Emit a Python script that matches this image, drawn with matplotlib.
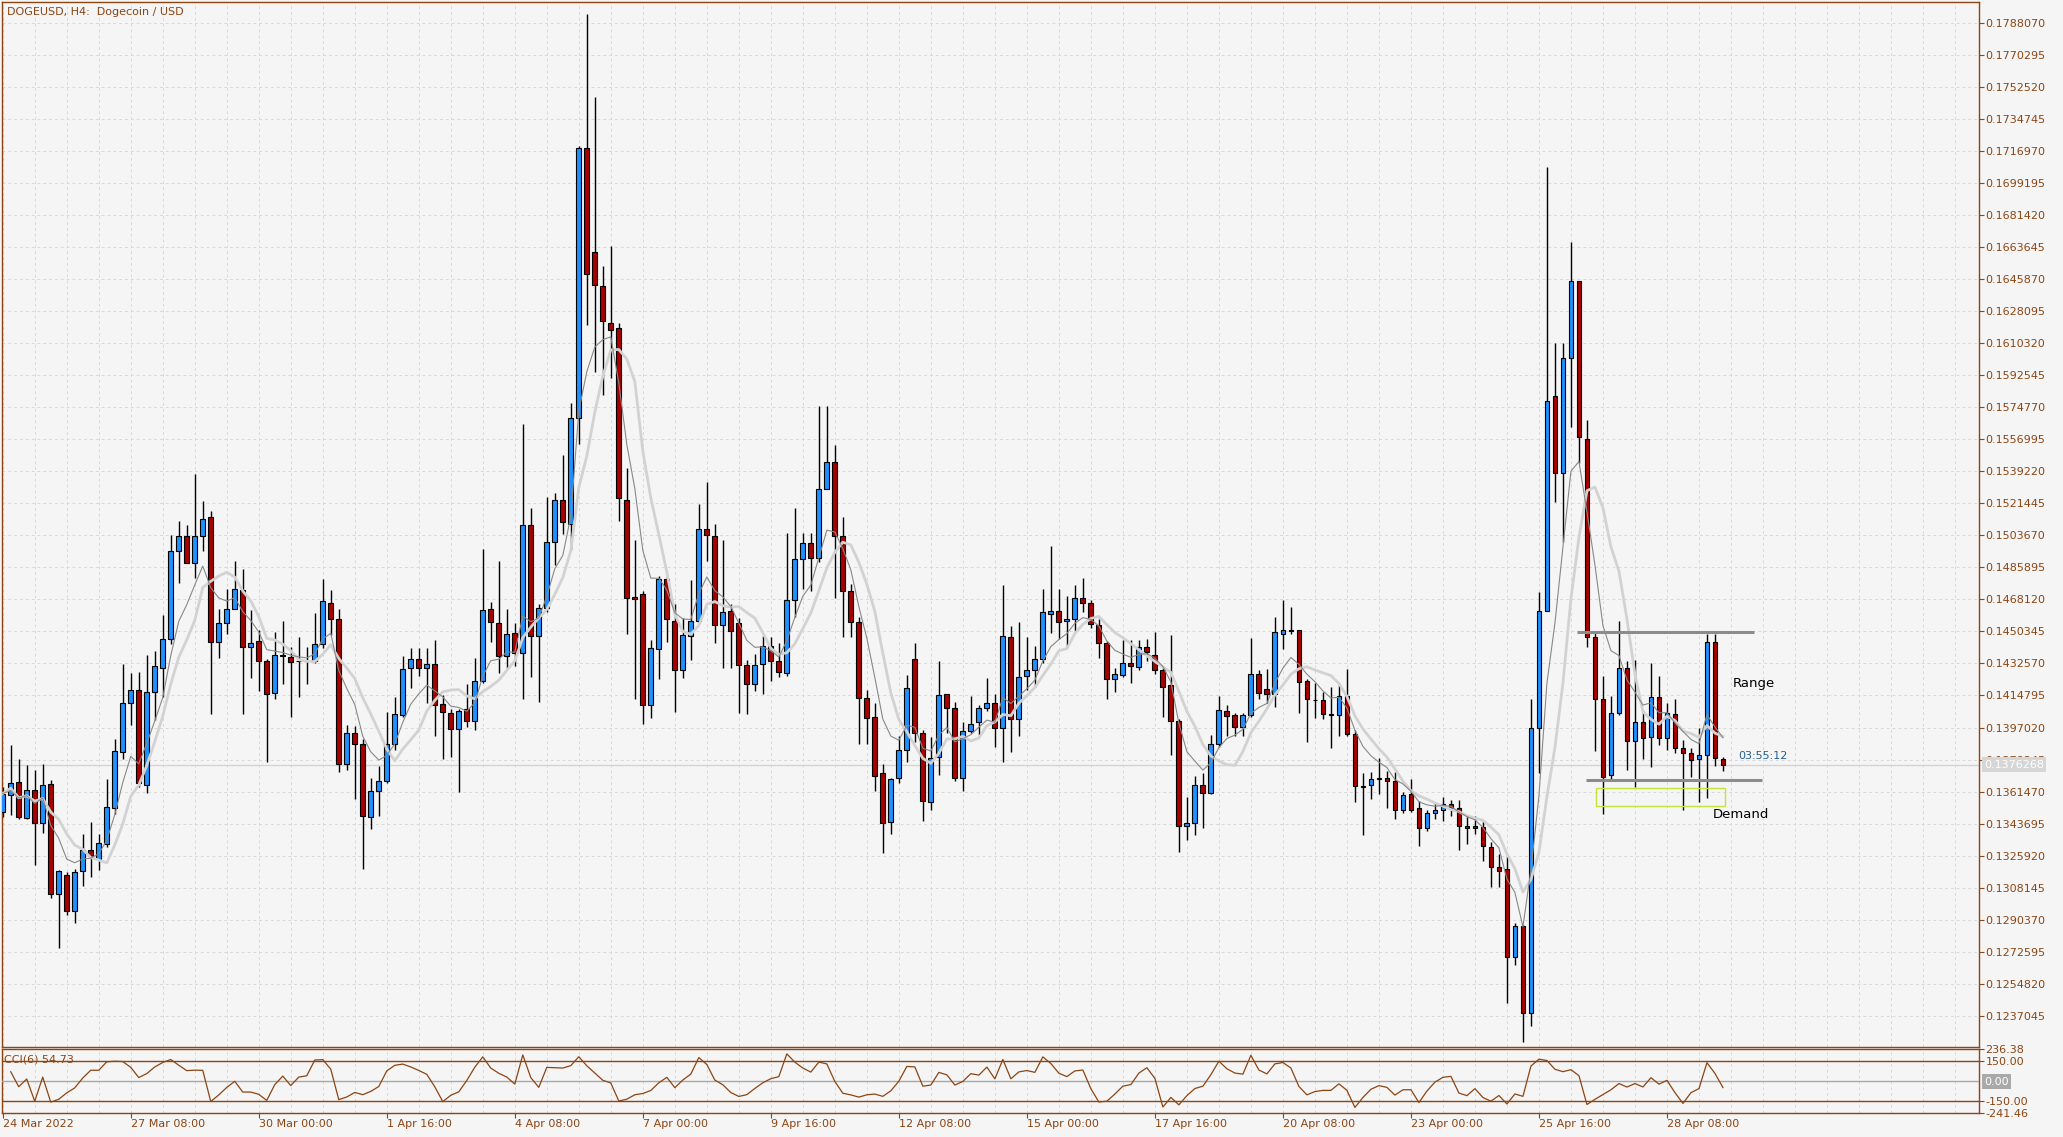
import numpy as np
import pandas as pd
import matplotlib
matplotlib.use('Agg')
import matplotlib.pyplot as plt
from matplotlib import rcParams
from matplotlib.patches import Rectangle

W, H = 2063, 1137
BROWN = '#8b4513'
BULL = '#1e90ff'
BEAR = '#a80000'
BG = '#f5f5f5'
GRID = '#d9d9d9'

rcParams.update({'font.family': 'DejaVu Sans', 'font.size': 8})

# ── H4 candles, 24 Mar 16:00 .. 29 Apr 12:00 ─────────────────────────────────
opens = [
    0.13501, 0.13597, 0.13670, 0.13470, 0.13625, 0.13442, 0.13658, 0.13048, 0.13153, 0.12952,
    0.13174, 0.13292, 0.13242, 0.13325, 0.13525, 0.13835, 0.14109, 0.14176, 0.13653, 0.14168,
    0.14298, 0.14462, 0.14951, 0.15035, 0.14881, 0.15035, 0.15140, 0.14446, 0.14548, 0.14629,
    0.14736, 0.14418, 0.14453, 0.14337, 0.14164, 0.14372, 0.14364, 0.14337, 0.14340, 0.14337,
    0.14436, 0.14664, 0.14573, 0.13770, 0.13942, 0.13876, 0.13473, 0.13620, 0.13671, 0.13877,
    0.14037, 0.14301, 0.14353, 0.14301, 0.14325, 0.14102, 0.14049, 0.13962, 0.14074, 0.14008,
    0.14226, 0.14626, 0.14548, 0.14370, 0.14495, 0.14383, 0.15094, 0.14476, 0.14632, 0.15000,
    0.15234, 0.15103, 0.15687, 0.17190, 0.16613, 0.16420, 0.16217, 0.16186, 0.15234, 0.14694,
    0.14713, 0.14096, 0.14408, 0.14797, 0.14564, 0.14292, 0.14480, 0.14564, 0.15072, 0.15032,
    0.14539, 0.14617, 0.14548, 0.14320, 0.14214, 0.14323, 0.14423, 0.14342, 0.14273, 0.14679,
    0.14906, 0.14994, 0.14913, 0.15297, 0.15443, 0.15032, 0.14729, 0.14554, 0.14133, 0.14026,
    0.13715, 0.13446, 0.13690, 0.13843, 0.14348, 0.13942, 0.13557, 0.13807, 0.14155, 0.14076,
    0.13690, 0.13952, 0.14002, 0.14079, 0.14109, 0.13970, 0.14475, 0.14020, 0.14257, 0.14287,
    0.14348, 0.14603, 0.14616, 0.14562, 0.14575, 0.14687, 0.14664, 0.14542, 0.14442, 0.14242,
    0.14259, 0.14331, 0.14307, 0.14418, 0.14372, 0.14290, 0.14205, 0.14007, 0.13422, 0.13440,
    0.13653, 0.13609, 0.13876, 0.14063, 0.14039, 0.13974, 0.14042, 0.14270, 0.14183, 0.14159,
    0.14492, 0.14509, 0.14511, 0.14226, 0.14124, 0.14124, 0.14044, 0.14041, 0.14146, 0.13932,
    0.13645, 0.13651, 0.13686, 0.13689, 0.13673, 0.13514, 0.13603, 0.13523, 0.13412, 0.13498,
    0.13514, 0.13546, 0.13523, 0.13421, 0.13421, 0.13418, 0.13307, 0.13198, 0.13182, 0.12694,
    0.12870, 0.12385, 0.13970, 0.14618, 0.15811, 0.15384, 0.16022, 0.16450, 0.15573, 0.14470,
    0.14131, 0.13705, 0.14048, 0.14303, 0.13896, 0.13998, 0.13918, 0.14140, 0.13914, 0.14044,
    0.13859, 0.13829, 0.13798, 0.13820, 0.14446, 0.13798,
]
highs = [
    0.13640, 0.13872, 0.13798, 0.13760, 0.13736, 0.13770, 0.13681, 0.13178, 0.13168, 0.13187,
    0.13381, 0.13446, 0.13377, 0.13686, 0.13909, 0.14322, 0.14274, 0.14279, 0.14372, 0.14396,
    0.14594, 0.15038, 0.15116, 0.15094, 0.15377, 0.15227, 0.15172, 0.14626, 0.14742, 0.14894,
    0.14849, 0.14622, 0.14511, 0.14348, 0.14501, 0.14561, 0.14418, 0.14474, 0.14418, 0.14607,
    0.14796, 0.14733, 0.14631, 0.13983, 0.13977, 0.13909, 0.13692, 0.13755, 0.14057, 0.14140,
    0.14368, 0.14414, 0.14414, 0.14414, 0.14455, 0.14148, 0.14074, 0.14074, 0.14211, 0.14354,
    0.14960, 0.14666, 0.14897, 0.14626, 0.14548, 0.15656, 0.15188, 0.14657, 0.15250, 0.15272,
    0.15484, 0.15771, 0.17199, 0.17932, 0.17471, 0.16535, 0.16644, 0.16217, 0.15412, 0.15010,
    0.14729, 0.14454, 0.14813, 0.14813, 0.14657, 0.14579, 0.14788, 0.15209, 0.15334, 0.15100,
    0.15010, 0.14657, 0.14579, 0.14345, 0.14376, 0.14476, 0.14470, 0.14439, 0.15053, 0.15188,
    0.15053, 0.15053, 0.15758, 0.15758, 0.15537, 0.15141, 0.14766, 0.14585, 0.14180, 0.14109,
    0.13765, 0.13692, 0.13922, 0.14261, 0.14442, 0.13959, 0.13918, 0.14342, 0.14159, 0.14113,
    0.14002, 0.14144, 0.14094, 0.14244, 0.14159, 0.14764, 0.14535, 0.14555, 0.14475, 0.14424,
    0.14737, 0.14977, 0.14742, 0.14700, 0.14764, 0.14803, 0.14677, 0.14570, 0.14451, 0.14302,
    0.14455, 0.14455, 0.14455, 0.14463, 0.14498, 0.14307, 0.14483, 0.14015, 0.13585, 0.13700,
    0.13720, 0.13931, 0.14144, 0.14094, 0.14048, 0.14048, 0.14466, 0.14289, 0.14294, 0.14583,
    0.14677, 0.14637, 0.14514, 0.14242, 0.14216, 0.14168, 0.14194, 0.14210, 0.14296, 0.13955,
    0.13715, 0.13721, 0.13801, 0.13731, 0.13721, 0.13613, 0.13683, 0.13562, 0.13514, 0.13555,
    0.13587, 0.13565, 0.13565, 0.13476, 0.13476, 0.13450, 0.13332, 0.13268, 0.13259, 0.12886,
    0.12876, 0.14130, 0.14720, 0.17081, 0.16108, 0.16108, 0.16666, 0.16450, 0.15678, 0.14497,
    0.14255, 0.14144, 0.14561, 0.14340, 0.14344, 0.14066, 0.14329, 0.14255, 0.14107, 0.14127,
    0.13903, 0.13857, 0.13970, 0.14488, 0.14488, 0.13807,
]
lows = [
    0.13473, 0.13483, 0.13464, 0.13464, 0.13205, 0.13385, 0.13026, 0.12743, 0.12928, 0.12885,
    0.13089, 0.13140, 0.13178, 0.13307, 0.13492, 0.13798, 0.13983, 0.13640, 0.13607, 0.14010,
    0.14140, 0.14436, 0.14773, 0.14881, 0.14803, 0.14951, 0.14044, 0.14355, 0.14488, 0.14626,
    0.14044, 0.14244, 0.14174, 0.13779, 0.14131, 0.14211, 0.14027, 0.14140, 0.14214, 0.14329,
    0.14409, 0.14483, 0.13724, 0.13736, 0.13575, 0.13187, 0.13409, 0.13479, 0.13664, 0.13844,
    0.14029, 0.14190, 0.14255, 0.14109, 0.13924, 0.13794, 0.13806, 0.13613, 0.13971, 0.13956,
    0.14220, 0.14445, 0.14273, 0.14298, 0.14314, 0.14127, 0.14252, 0.14112, 0.14610, 0.14875,
    0.15047, 0.14954, 0.15546, 0.16207, 0.15942, 0.15818, 0.15911, 0.15116, 0.14492, 0.14127,
    0.13987, 0.14024, 0.14242, 0.14445, 0.14055, 0.14245, 0.14345, 0.14548, 0.14897, 0.14439,
    0.14298, 0.14298, 0.14049, 0.14043, 0.14174, 0.14158, 0.14226, 0.14252, 0.14258, 0.14585,
    0.14741, 0.14726, 0.14891, 0.15297, 0.14688, 0.14470, 0.14470, 0.13878, 0.13878, 0.13618,
    0.13274, 0.13381, 0.13662, 0.13780, 0.13891, 0.13451, 0.13511, 0.13705, 0.13937, 0.13674,
    0.13618, 0.13937, 0.13928, 0.14063, 0.13863, 0.13780, 0.13835, 0.13922, 0.14177, 0.14196,
    0.14326, 0.14496, 0.14459, 0.14415, 0.14501, 0.14609, 0.14525, 0.14357, 0.14129, 0.14168,
    0.14251, 0.14218, 0.14289, 0.14338, 0.14266, 0.14029, 0.13816, 0.13279, 0.13348, 0.13372,
    0.13414, 0.13603, 0.13863, 0.13922, 0.13922, 0.13922, 0.14029, 0.14131, 0.14107, 0.14085,
    0.14405, 0.14492, 0.14052, 0.13891, 0.14025, 0.14018, 0.13859, 0.13923, 0.13923, 0.13555,
    0.13374, 0.13571, 0.13603, 0.13523, 0.13460, 0.13498, 0.13501, 0.13310, 0.13396, 0.13460,
    0.13450, 0.13476, 0.13291, 0.13322, 0.13380, 0.13230, 0.13086, 0.13086, 0.12439, 0.12653,
    0.12222, 0.12311, 0.13715, 0.14618, 0.15225, 0.14998, 0.15639, 0.15439, 0.14418, 0.13840,
    0.13492, 0.13687, 0.14038, 0.13733, 0.13640, 0.13798, 0.13751, 0.13872, 0.13844, 0.13829,
    0.13514, 0.13696, 0.13557, 0.13581, 0.13757, 0.13729,
]
closes = [
    0.13603, 0.13664, 0.13473, 0.13625, 0.13442, 0.13653, 0.13048, 0.13174, 0.12952, 0.13168,
    0.13292, 0.13255, 0.13331, 0.13529, 0.13841, 0.14109, 0.14176, 0.13664, 0.14168, 0.14314,
    0.14462, 0.14951, 0.15035, 0.14885, 0.15035, 0.15129, 0.14446, 0.14548, 0.14629, 0.14740,
    0.14418, 0.14442, 0.14342, 0.14157, 0.14375, 0.14366, 0.14335, 0.14339, 0.14342, 0.14436,
    0.14670, 0.14573, 0.13770, 0.13937, 0.13876, 0.13479, 0.13620, 0.13675, 0.13877, 0.14044,
    0.14296, 0.14353, 0.14301, 0.14325, 0.14094, 0.14055, 0.13962, 0.14062, 0.14008, 0.14226,
    0.14623, 0.14557, 0.14370, 0.14492, 0.14383, 0.15094, 0.14476, 0.14632, 0.15000, 0.15234,
    0.15110, 0.15687, 0.17190, 0.16491, 0.16426, 0.16226, 0.16179, 0.15244, 0.14688, 0.14685,
    0.14096, 0.14414, 0.14797, 0.14570, 0.14292, 0.14486, 0.14564, 0.15072, 0.15038, 0.14539,
    0.14610, 0.14508, 0.14320, 0.14214, 0.14320, 0.14423, 0.14342, 0.14276, 0.14679, 0.14906,
    0.14994, 0.14913, 0.15297, 0.15446, 0.15032, 0.14729, 0.14554, 0.14133, 0.14024, 0.13702,
    0.13440, 0.13686, 0.13843, 0.14192, 0.13942, 0.13563, 0.13803, 0.14150, 0.14076, 0.13690,
    0.13952, 0.13987, 0.14076, 0.14109, 0.13970, 0.14481, 0.14020, 0.14248, 0.14287, 0.14353,
    0.14609, 0.14616, 0.14557, 0.14575, 0.14692, 0.14659, 0.14544, 0.14442, 0.14242, 0.14270,
    0.14326, 0.14313, 0.14418, 0.14390, 0.14292, 0.14196, 0.14007, 0.13422, 0.13440, 0.13653,
    0.13609, 0.13876, 0.14070, 0.14035, 0.13974, 0.14042, 0.14270, 0.14164, 0.14159, 0.14498,
    0.14509, 0.14507, 0.14224, 0.14131, 0.14121, 0.14044, 0.14037, 0.14146, 0.13932, 0.13645,
    0.13642, 0.13683, 0.13689, 0.13673, 0.13514, 0.13597, 0.13514, 0.13412, 0.13498, 0.13514,
    0.13546, 0.13523, 0.13421, 0.13412, 0.13412, 0.13310, 0.13198, 0.13173, 0.12694, 0.12870,
    0.12385, 0.13970, 0.14618, 0.15783, 0.15384, 0.16022, 0.16450, 0.15582, 0.14472, 0.14131,
    0.13696, 0.14048, 0.14303, 0.13896, 0.13998, 0.13914, 0.14140, 0.13914, 0.14051, 0.13859,
    0.13829, 0.13792, 0.13820, 0.14446, 0.13803, 0.13763,
]

price_labels = [
    '0.1788070', '0.1770295', '0.1752520', '0.1734745', '0.1716970', '0.1699195',
    '0.1681420', '0.1663645', '0.1645870', '0.1628095', '0.1610320', '0.1592545',
    '0.1574770', '0.1556995', '0.1539220', '0.1521445', '0.1503670', '0.1485895',
    '0.1468120', '0.1450345', '0.1432570', '0.1414795', '0.1397020', '0.1379245',
    '0.1361470', '0.1343695', '0.1325920', '0.1308145', '0.1290370', '0.1272595',
    '0.1254820', '0.1237045',
]
time_labels = ['24 Mar 2022', '27 Mar 08:00', '30 Mar 00:00', '1 Apr 16:00',
               '4 Apr 08:00', '7 Apr 00:00', '9 Apr 16:00', '12 Apr 08:00',
               '15 Apr 00:00', '17 Apr 16:00', '20 Apr 08:00', '23 Apr 00:00',
               '25 Apr 16:00', '28 Apr 08:00']
time_label_bars = [0, 16, 32, 48, 64, 80, 96, 112, 128, 144, 160, 176, 192, 208]

cci_levels = [236.38, 150.0, -150.0, -241.46]
cci_level_labels = ['236.38', '150.00', '-150.00', '-241.46']

last_price = 0.1376268
cci_last_label = 'CCI(6) 54.73'
timer_text = '03:55:12'

# hand-drawn objects on the chart
range_top = (196.7, 218.9, 0.14498)
range_bottom = (197.9, 219.9, 0.13679)
demand_box = (199.1, 215.2, 0.13533, 0.13637)


def frac(x0, y0, x1, y1):
    """pixel box (top-left origin) -> figure fraction rect"""
    return [x0 / W, 1 - y1 / H, (x1 - x0) / W, (y1 - y0) / H]


def style_axes(a):
    a.set_facecolor(BG)
    for s in a.spines.values():
        s.set_color(BROWN)
        s.set_linewidth(1.0)


def main():
    o, h, l, c = (np.array(v) for v in (opens, highs, lows, closes))
    idx = np.arange(len(c))
    xlim = (-0.09, 247.0)

    fig = plt.figure(figsize=(W / 100, H / 100), dpi=100, facecolor=BG)
    ax = fig.add_axes(frac(2, 2, 1979, 1047))
    cax = fig.add_axes(frac(2, 1049, 1979, 1113))
    style_axes(ax)
    style_axes(cax)

    # ── price panel ───────────────────────────────────────────────────────
    ax.vlines(idx, l, h, color='black', lw=1.0, zorder=2)
    colors = np.where(c >= o, BULL, BEAR)
    ax.bar(idx, np.maximum(np.abs(c - o), 1e-6), bottom=np.minimum(o, c),
           width=0.6, color=colors, edgecolor='black', linewidth=0.8, zorder=3)

    cs = pd.Series(c)
    ax.plot(idx, cs.rolling(8, min_periods=1).mean(), color='#d2d2d2', lw=2.0, zorder=4)
    ax.plot(idx, cs.ewm(span=6, adjust=False).mean(), color='#888888', lw=0.8, zorder=5)

    ax.axhline(last_price, color='#d4d4d4', lw=1.0, zorder=1)

    ax.hlines(range_top[2], range_top[0], range_top[1], color='#8c8c8c', lw=2.2, zorder=6)
    ax.hlines(range_bottom[2], range_bottom[0], range_bottom[1], color='#8c8c8c', lw=2.2, zorder=6)
    ax.add_patch(Rectangle((demand_box[0], demand_box[2]), demand_box[1] - demand_box[0],
                           demand_box[3] - demand_box[2], fill=False,
                           edgecolor='#c3e43a', lw=1.0, zorder=6))
    ax.text(216.2, 0.14216, 'Range', fontsize=9.5, color='black', va='center', ha='left')
    ax.text(213.7, 0.13489, 'Demand', fontsize=9.5, color='black', va='center', ha='left')
    ax.text(216.9, 0.13811, timer_text, fontsize=8, color='#245f8f', va='center', ha='left')

    ticks = [float(t) for t in price_labels]
    ax.set_ylim(0.12196, 0.17999)
    ax.set_xlim(*xlim)
    ax.yaxis.tick_right()
    ax.set_yticks(ticks)
    ax.set_yticklabels(price_labels)
    ax.tick_params(axis='y', colors=BROWN, labelcolor=BROWN, length=3.6, width=0.8,
                   pad=1, labelsize=8)
    ax.set_xticks(np.arange(0, 248, 4))
    ax.tick_params(axis='x', length=0, labelbottom=False)
    ax.grid(True, ls=(0, (3, 3)), color=GRID, lw=0.7, zorder=0)
    ax.set_axisbelow(True)

    fig.text(7 / W, 1 - 12 / H, 'DOGEUSD, H4:  Dogecoin / USD', color=BROWN,
             fontsize=8, va='center', ha='left')
    fig.text(1984 / W, 1 - 764.7 / H, f'{last_price:.7f}', color='white', fontsize=8,
             va='center', ha='left', zorder=10,
             bbox=dict(facecolor='#d6d6d6', edgecolor='none', pad=1.6))

    # ── CCI(6) panel ──────────────────────────────────────────────────────
    tp = pd.Series((h + l + c) / 3)
    sma = tp.rolling(6, min_periods=2).mean()
    md = tp.rolling(6, min_periods=2).apply(lambda x: np.mean(np.abs(x - x.mean())), raw=True)
    cci = (tp - sma) / (0.015 * md)
    cax.plot(idx, cci, color=BROWN, lw=0.9, zorder=4)
    cax.axhline(150, color=BROWN, lw=1.0, zorder=3)
    cax.axhline(-150, color=BROWN, lw=1.0, zorder=3)
    cax.axhline(0, color='#a8a8a8', lw=1.0, zorder=3)
    cax.set_ylim(-241.46, 236.38)
    cax.set_xlim(*xlim)
    cax.yaxis.tick_right()
    cax.set_yticks(cci_levels)
    cax.set_yticklabels(cci_level_labels)
    cax.tick_params(axis='y', colors=BROWN, labelcolor=BROWN, length=3.6, width=0.8,
                    pad=1, labelsize=8)
    cax.set_xticks(time_label_bars)
    cax.set_xticklabels(time_labels)
    cax.set_xticks(np.arange(0, 248, 4), minor=True)
    cax.tick_params(axis='x', which='major', colors=BROWN, labelcolor=BROWN, length=3.6,
                    width=0.8, pad=1, labelsize=8)
    cax.tick_params(axis='x', which='minor', length=0)
    for lab in cax.get_xticklabels():
        lab.set_ha('left')
    cax.grid(True, axis='x', which='both', ls=(0, (3, 3)), color=GRID, lw=0.7, zorder=0)
    cax.set_axisbelow(True)

    fig.text(4 / W, 1 - 1060 / H, cci_last_label, color=BROWN, fontsize=8,
             va='center', ha='left')
    fig.text(1984 / W, 1 - 1081.7 / H, '0.00', color='white', fontsize=8,
             va='center', ha='left', zorder=10,
             bbox=dict(facecolor='#a9a9a9', edgecolor='none', pad=1.6))

    fig.savefig('out.png', dpi=100, facecolor=BG)
    plt.close(fig)


if __name__ == '__main__':
    main()
